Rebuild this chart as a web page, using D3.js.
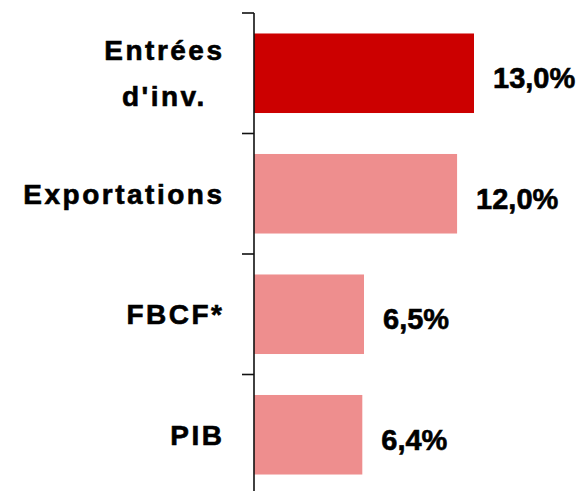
<!DOCTYPE html>
<html lang="fr">
<meta charset="utf-8">
<script src="https://d3js.org/d3.v7.min.js"></script>
<style>
  body { margin: 0; background: #fff; }
  text { font-family: "Liberation Sans", Arial, sans-serif; font-weight: bold; fill: #000; stroke: #000; stroke-width: 0.6px; }
</style>
<body>
<svg id="chart" width="588" height="491"></svg>
<script>
// data
var categories = ["Entrées\nd'inv.", "Exportations", "FBCF*", "PIB"];
var values = [13.0, 12.0, 6.5, 6.4];
var valueLabels = ["13,0%", "12,0%", "6,5%", "6,4%"];
var barColors = ["#cc0000", "#ee8e8e", "#ee8e8e", "#ee8e8e"];

var svg = d3.select("#chart");
var x0 = 254;

var x = d3.scaleLinear().domain([0, 13]).range([x0, 474]);
var y = d3.scaleBand().domain(categories).range([13, 495])
    .paddingInner(0.34).paddingOuter(0.17);
var half = y.step() * y.paddingInner() / 2;

// bars
svg.selectAll("rect.bar")
  .data(categories)
  .enter().append("rect")
  .attr("class", "bar")
  .attr("x", x(0))
  .attr("y", function(d) { return y(d); })
  .attr("width", function(d, i) { return x(values[i]) - x(0); })
  .attr("height", y.bandwidth())
  .attr("fill", function(d, i) { return barColors[i]; });

// axis line + ticks at the band boundaries
svg.append("line")
  .attr("x1", x0).attr("x2", x0)
  .attr("y1", y(categories[0]) - half).attr("y2", 491)
  .attr("stroke", "#111").attr("stroke-width", 1.6);

svg.selectAll("line.tick")
  .data(categories)
  .enter().append("line")
  .attr("class", "tick")
  .attr("x1", x0 - 12).attr("x2", x0)
  .attr("y1", function(d) { return y(d) - half; })
  .attr("y2", function(d) { return y(d) - half; })
  .attr("stroke", "#111").attr("stroke-width", 1.6);

// value labels
svg.selectAll("text.val")
  .data(categories)
  .enter().append("text")
  .attr("class", "val")
  .attr("x", function(d, i) { return x(values[i]) + 19; })
  .attr("y", function(d) { return y(d) + y.bandwidth() / 2 + 15; })
  .style("font-size", "29px")
  .text(function(d, i) { return valueLabels[i]; });

// category labels (multi-line ones centred within their block, block right-aligned)
var labelRight = 222, ls = 2.5, lineGap = 46;
categories.forEach(function(c) {
  var lines = c.split("\n");
  var cy = y(c) + y.bandwidth() / 2;
  var g = svg.append("g");
  var texts = lines.map(function(l, k) {
    return g.append("text")
      .style("font-size", "28px")
      .style("letter-spacing", ls + "px")
      .attr("y", cy + 10 + (k - (lines.length - 1) / 2) * lineGap)
      .text(l);
  });
  var widths = texts.map(function(t) { return t.node().getComputedTextLength() - ls; });
  var maxW = d3.max(widths);
  texts.forEach(function(t, k) {
    t.attr("x", labelRight - maxW / 2 - widths[k] / 2);
  });
});
</script>
</body>
</html>
